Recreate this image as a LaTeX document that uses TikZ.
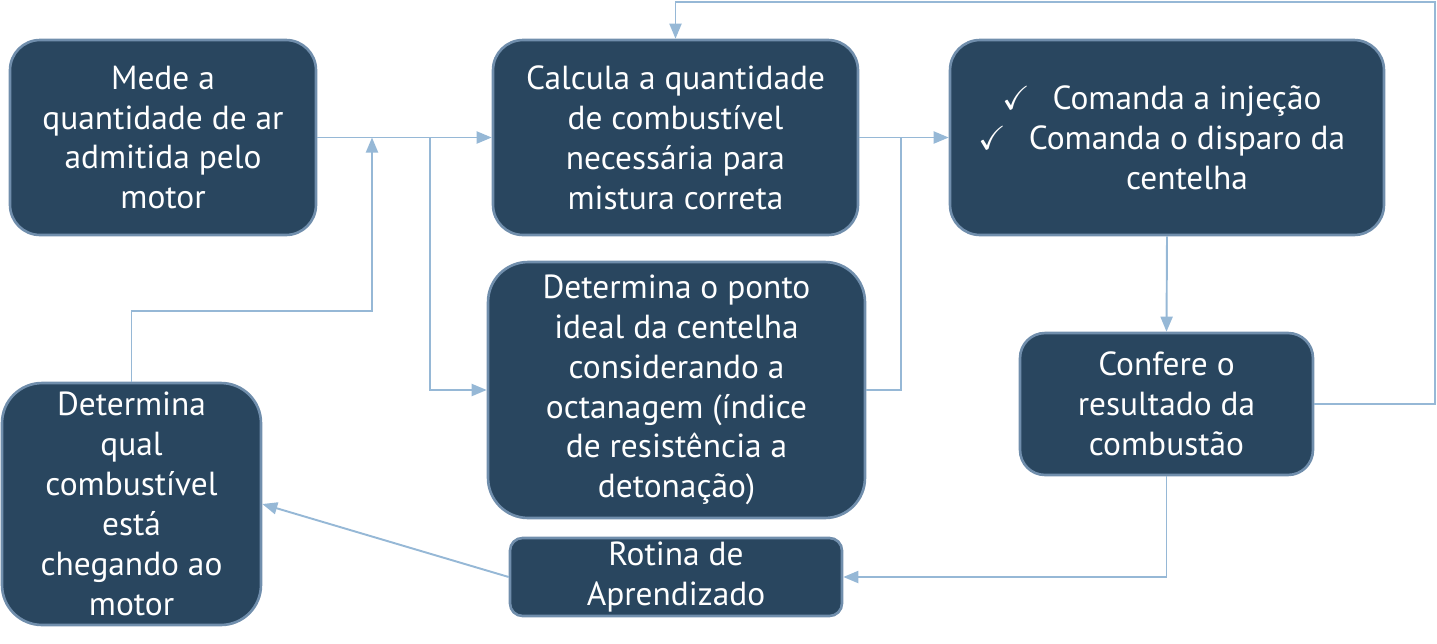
\documentclass[tikz,border=0pt]{standalone}
\usepackage{amssymb}
\usepackage{fontspec}
\setmainfont{PT Sans}
\usepackage{tikz}
\usetikzlibrary{arrows.meta,positioning,calc}

\definecolor{boxfill}{RGB}{41,70,95}
\definecolor{boxline}{RGB}{112,142,172}
\definecolor{linkblue}{RGB}{150,184,214}

\newcommand{\chk}{\hspace*{0.8cm}\llap{$\checkmark$\hspace{0.45cm}}}

\begin{document}
\begin{tikzpicture}[
  x=0.02cm, y=-0.02cm,
  n/.style={draw=boxline, fill=boxfill, text=white, line width=1.5pt, rounded corners=6mm,
    inner sep=0pt, align=center, font=\fontsize{19}{22.7}\selectfont},
  arr/.style={-{Triangle[length=3mm,width=2.4mm]}, draw=linkblue, line width=1.1pt},
  lnk/.style={draw=linkblue, line width=1.1pt}
]
\useasboundingbox (0,0) rectangle (1437,643);

\node[n, minimum width=6.12cm, minimum height=3.9cm] (mede) at (163,137.5)
  {Mede a\\ quantidade de ar\\ admitida pelo\\ motor};
\node[n, minimum width=7.3cm, minimum height=3.9cm] (calc) at (675.5,137.5)
  {Calcula a quantidade\\ de combustível\\ necessária para\\ mistura correta};
\node[n, minimum width=8.68cm, minimum height=3.9cm] (cmd) at (1167,137.5)
  {\chk Comanda a injeção\\ \chk Comanda o disparo da\\ \hspace*{0.8cm}centelha};
\node[n, minimum width=7.54cm, minimum height=5.12cm, rounded corners=8mm] (ponto) at (676.5,390)
  {Determina o ponto\\ ideal da centelha\\ considerando a\\ octanagem (índice\\ de resistência a\\ detonação)};
\node[n, minimum width=5.86cm, minimum height=2.84cm, rounded corners=5mm] (conf) at (1166.5,404)
  {Confere o\\ resultado da\\ combustão};
\node[n, minimum width=6.64cm, minimum height=1.56cm, rounded corners=2.5mm] (rot) at (676,577)
  {Rotina de\\ Aprendizado};
\node[n, minimum width=5.18cm, minimum height=4.84cm, rounded corners=8mm] (qual) at (131.5,504)
  {Determina\\ qual\\ combustível\\ está\\ chegando ao\\ motor};

% junctions
\coordinate (sp1) at (430,137.5);
\coordinate (sp2) at (372,137.5);
\coordinate (up2) at (372,311);
\coordinate (sp3) at (901,137.5);
\coordinate (top) at (1435,2);

\draw[arr] (mede.east) -- (calc.west);
\draw[arr] (sp1) |- (ponto.west);
\draw[arr] (qual.north) |- (up2) -- (sp2);
\draw[arr] (calc.east) -- (cmd.west);
\draw[lnk] (ponto.east) -| (sp3);
\draw[arr] (cmd.south) -- (conf.north);
\draw[arr] (conf.east) -| (top) -| (calc.north);
\draw[arr] (conf.south) |- (rot.east);
\draw[arr] (rot.west) -- (qual.east);
\end{tikzpicture}
\end{document}
